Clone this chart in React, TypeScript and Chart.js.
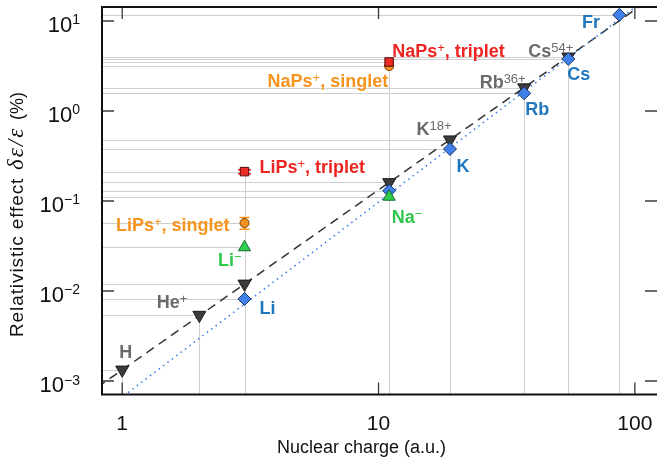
import { useEffect, useRef } from 'react';
import { Chart, registerables } from 'chart.js';

Chart.register(...registerables);

// ---- axes ----
const X_MIN = 0.834;
const X_MAX = 122;
const Y_MIN = 7.08e-4;
const Y_MAX = 14.3;
const X_TICKS = [1, 10, 100];
const X_TICK_LABELS = ['1', '10', '100'];
const Y_TICKS = [1e-3, 1e-2, 1e-1, 1, 10];
const Y_TICK_EXPONENTS = ['−3', '−2', '−1', '0', '1'];

// ---- data: nuclear charge Z and relativistic effect (%) ----
const IONS_Z = [1, 2, 3, 11, 19, 37, 55];
const IONS_VAL = [0.00133, 0.0054, 0.012, 0.161, 0.48, 1.82, 4.0];
const ATOMS_Z = [3, 11, 19, 37, 55, 87];
const ATOMS_VAL = [0.00815, 0.13, 0.378, 1.57, 3.78, 11.7];
const ANIONS_Z = [3, 11];
const ANIONS_VAL = [0.0306, 0.1116];
const SINGLET_Z = [3, 11];
const SINGLET_VAL = [0.057, 3.15];
const SINGLET_ERR = [0.0085, 0];
const TRIPLET_Z = [3, 11];
const TRIPLET_VAL = [0.212, 3.5];
const TRIPLET_ERR = [0.011, 0];
// guide lines (endpoints)
const IONS_FIT_X = [0.8, 122];
const IONS_FIT_Y = [8.5e-4, 19.8];
const ATOMS_FIT_X = [0.8, 122];
const ATOMS_FIT_Y = [4.1e-4, 21.8];

// ---- labels ----
const ION_NAMES = ['H', 'He^{+}', '', '', 'K^{18+}', 'Rb^{36+}', 'Cs^{54+}'];
const ATOM_NAMES = ['Li', '', 'K', 'Rb', 'Cs', 'Fr'];
const ANION_NAMES = ['Li^{−}', 'Na^{−}'];
const SINGLET_NAMES = ['LiPs^{+}, singlet', 'NaPs^{+}, singlet'];
const TRIPLET_NAMES = ['LiPs^{+}, triplet', 'NaPs^{+}, triplet'];

type Align = 'left' | 'right' | 'center';
// label placement relative to its point (pixels)
const LABEL_PLACEMENT: Record<string, [Align, number, number][]> = {
  ions: [['center', 3.5, -12], ['right', -12, -7], ['left', 0, 0], ['left', 0, 0], ['right', 1.5, -5], ['right', 1.5, 0], ['right', 5, 0]],
  atoms: [['left', 15, 15], ['left', 0, 0], ['left', 6.5, 22.7], ['left', 1, 21.6], ['left', -1, 21], ['right', -19.4, 13]],
  anions: [['right', -3, 18.7], ['left', 2.6, 26.6]],
  singlet: [['right', -15, 8], ['right', -1, 21]],
  triplet: [['left', 15, 1], ['left', 3, -5]],
};

const FONT = "'Liberation Sans', Arial, Helvetica, sans-serif";

function zip(xs: number[], ys: number[]) {
  return xs.map((x, i) => ({ x, y: ys[i] }));
}

function parseRich(s: string) {
  const parts: { t: string; sup: boolean }[] = [];
  const re = /\^\{([^}]*)\}/g;
  let last = 0;
  let m: RegExpExecArray | null;
  while ((m = re.exec(s))) {
    if (m.index > last) parts.push({ t: s.slice(last, m.index), sup: false });
    parts.push({ t: m[1], sup: true });
    last = re.lastIndex;
  }
  if (last < s.length) parts.push({ t: s.slice(last), sup: false });
  return parts;
}

function drawRich(ctx: CanvasRenderingContext2D, s: string, x: number, y: number, align: Align, mainFont: string, supFont: string, raise: number) {
  const parts = parseRich(s);
  const widths = parts.map((p) => {
    ctx.font = p.sup ? supFont : mainFont;
    return ctx.measureText(p.t).width;
  });
  const total = widths.reduce((a, b) => a + b, 0);
  let cx = align === 'left' ? x : align === 'right' ? x - total : x - total / 2;
  ctx.textAlign = 'left';
  ctx.textBaseline = 'alphabetic';
  parts.forEach((p, i) => {
    ctx.font = p.sup ? supFont : mainFont;
    ctx.fillText(p.t, cx, p.sup ? y - raise : y);
    cx += widths[i];
  });
}

const dropLinesPlugin = {
  id: 'dropLines',
  beforeDatasetsDraw(chart: any) {
    const ctx = chart.ctx as CanvasRenderingContext2D;
    const ca = chart.chartArea;
    ctx.save();
    ctx.strokeStyle = '#cfcfcf';
    ctx.lineWidth = 1;
    chart.data.datasets.forEach((ds: any, di: number) => {
      if (!ds.dropLines) return;
      const meta = chart.getDatasetMeta(di);
      meta.data.forEach((el: any) => {
        const px = Math.round(el.x) + 0.5;
        const py = Math.round(el.y) + 0.5;
        ctx.beginPath();
        ctx.moveTo(ca.left, py);
        ctx.lineTo(px, py);
        ctx.moveTo(px, py);
        ctx.lineTo(px, ca.bottom);
        ctx.stroke();
      });
    });
    // error bars
    const y = chart.scales.y;
    chart.data.datasets.forEach((ds: any, di: number) => {
      if (!ds.errors) return;
      const meta = chart.getDatasetMeta(di);
      meta.data.forEach((el: any, i: number) => {
        const e = ds.errors[i];
        if (!e) return;
        const v = ds.data[i].y;
        const top = y.getPixelForValue(v + e);
        const bot = y.getPixelForValue(v - e);
        const hw = ds.capHalfWidth;
        ctx.strokeStyle = ds.errorColor;
        ctx.lineWidth = 1.5;
        ctx.beginPath();
        ctx.moveTo(el.x, top);
        ctx.lineTo(el.x, bot);
        ctx.moveTo(el.x - hw, top);
        ctx.lineTo(el.x + hw, top);
        ctx.moveTo(el.x - hw, bot);
        ctx.lineTo(el.x + hw, bot);
        ctx.stroke();
      });
    });
    ctx.restore();
  },
};

const framePlugin = {
  id: 'frame',
  afterDraw(chart: any) {
    const ctx = chart.ctx as CanvasRenderingContext2D;
    const ca = chart.chartArea;
    const xs = chart.scales.x;
    const ys = chart.scales.y;
    ctx.save();
    // ticks
    ctx.strokeStyle = '#3a3a3a';
    ctx.lineWidth = 1.3;
    ctx.beginPath();
    Y_TICKS.forEach((t) => {
      const py = ys.getPixelForValue(t);
      ctx.moveTo(ca.left, py);
      ctx.lineTo(ca.left + 12, py);
      ctx.moveTo(ca.right - 12, py);
      ctx.lineTo(ca.right, py);
    });
    X_TICKS.forEach((t) => {
      const px = xs.getPixelForValue(t);
      ctx.moveTo(px, ca.bottom);
      ctx.lineTo(px, ca.bottom - 12);
      ctx.moveTo(px, ca.top);
      ctx.lineTo(px, ca.top + 12);
    });
    ctx.stroke();
    // frame (left, top, bottom)
    ctx.strokeStyle = '#111';
    ctx.lineWidth = 2;
    ctx.beginPath();
    ctx.moveTo(ca.left - 1, ca.top);
    ctx.lineTo(ca.right, ca.top);
    ctx.moveTo(ca.left, ca.top);
    ctx.lineTo(ca.left, ca.bottom);
    ctx.moveTo(ca.left - 1, ca.bottom);
    ctx.lineTo(ca.right, ca.bottom);
    ctx.stroke();

    // tick labels
    ctx.fillStyle = '#111';
    Y_TICKS.forEach((t, i) => {
      const py = ys.getPixelForValue(t);
      drawRich(ctx, '10^{' + Y_TICK_EXPONENTS[i] + '}', ca.left - 22, py + 11, 'right', `22px ${FONT}`, `14px ${FONT}`, 7.5);
    });
    ctx.font = `21px ${FONT}`;
    ctx.textAlign = 'center';
    ctx.textBaseline = 'alphabetic';
    X_TICKS.forEach((t, i) => {
      ctx.fillText(X_TICK_LABELS[i], xs.getPixelForValue(t), ca.bottom + 35.5);
    });

    // axis titles
    ctx.font = `18px ${FONT}`;
    ctx.textAlign = 'center';
    ctx.fillText('Nuclear charge (a.u.)', ca.left + 259.5, ca.bottom + 58.5);

    ctx.save();
    ctx.translate(23, 337);
    ctx.rotate(-Math.PI / 2);
    ctx.textAlign = 'left';
    const c2 = ctx as any;
    c2.letterSpacing = '0.9px';
    ctx.font = `19px ${FONT}`;
    ctx.fillText('Relativistic effect', 0, 0);
    c2.letterSpacing = '2px';
    ctx.font = "italic 23px 'Liberation Serif', 'DejaVu Serif', serif";
    ctx.fillText('δε/ε', 167, 0);
    c2.letterSpacing = '0px';
    ctx.font = `18px ${FONT}`;
    ctx.fillText('(%)', 217, 0);
    ctx.restore();

    // point labels
    chart.data.datasets.forEach((ds: any, di: number) => {
      if (!ds.names) return;
      const meta = chart.getDatasetMeta(di);
      const place = LABEL_PLACEMENT[ds.key];
      ctx.fillStyle = ds.labelColor;
      meta.data.forEach((el: any, i: number) => {
        const name = ds.names[i];
        if (!name) return;
        const [align, dx, dy] = place[i];
        drawRich(ctx, name, el.x + dx, el.y + dy, align, `bold 18px ${FONT}`, `13px ${FONT}`, 5);
      });
    });
    ctx.restore();
  },
};

export default function App() {
  const ref = useRef<HTMLCanvasElement>(null);

  useEffect(() => {
    if (!ref.current) return;
    const chart = new Chart(ref.current, {
      type: 'scatter',
      data: {
        datasets: [
          {
            key: 'triplet', names: TRIPLET_NAMES, labelColor: '#ee2420', dropLines: true,
            errors: TRIPLET_ERR, errorColor: '#ee2420', capHalfWidth: 6.5,
            data: zip(TRIPLET_Z, TRIPLET_VAL),
            pointStyle: 'rect', pointRadius: 6, backgroundColor: '#ee2b24', borderColor: '#4a0a0a', borderWidth: 1,
            order: 1,
          } as any,
          {
            key: 'singlet', names: SINGLET_NAMES, labelColor: '#f7941d', dropLines: true,
            errors: SINGLET_ERR, errorColor: '#f7941d', capHalfWidth: 5,
            data: zip(SINGLET_Z, SINGLET_VAL),
            pointStyle: 'circle', pointRadius: 4.5, backgroundColor: '#f7921e', borderColor: '#7a3f00', borderWidth: 1,
            order: 2,
          } as any,
          {
            key: 'anions', names: ANION_NAMES, labelColor: '#2ec94a', dropLines: true,
            data: zip(ANIONS_Z, ANIONS_VAL),
            pointStyle: 'triangle', pointRadius: 7, backgroundColor: '#2fcf4f', borderColor: '#166a26', borderWidth: 1,
            order: 3,
          } as any,
          {
            key: 'atoms', names: ATOM_NAMES, labelColor: '#1f77c0', dropLines: true,
            data: zip(ATOMS_Z, ATOMS_VAL),
            pointStyle: 'rectRot', pointRadius: 6.5, backgroundColor: '#3f80ea', borderColor: '#1b3566', borderWidth: 1,
            order: 4,
          } as any,
          {
            key: 'ions', names: ION_NAMES, labelColor: '#6a6a6a', dropLines: true,
            data: zip(IONS_Z, IONS_VAL),
            pointStyle: 'triangle', pointRotation: 180, pointRadius: 7.5, backgroundColor: '#3c3c3c', borderColor: '#1a1a1a', borderWidth: 1,
            order: 5,
          } as any,
          {
            type: 'line',
            data: zip(ATOMS_FIT_X, ATOMS_FIT_Y),
            borderColor: '#3d7fe6', borderWidth: 1.6, borderDash: [1.5, 4], pointRadius: 0, fill: false, showLine: true,
            order: 6,
          } as any,
          {
            type: 'line',
            data: zip(IONS_FIT_X, IONS_FIT_Y),
            borderColor: '#333', borderWidth: 1.5, borderDash: [9, 6], pointRadius: 0, fill: false, showLine: true,
            order: 7,
          } as any,
        ],
      },
      options: {
        animation: false,
        responsive: false,
        events: [],
        layout: { autoPadding: false, padding: { left: 102, top: 7, right: -2, bottom: 66.5 } },
        plugins: { legend: { display: false }, tooltip: { enabled: false } },
        scales: {
          x: { type: 'logarithmic', min: X_MIN, max: X_MAX, display: false },
          y: { type: 'logarithmic', min: Y_MIN, max: Y_MAX, display: false },
        },
      },
      plugins: [dropLinesPlugin, framePlugin],
    });
    return () => chart.destroy();
  }, []);

  return (
    <div style={{ position: 'fixed', left: 0, top: 0, width: 657, height: 461, background: '#fff' }}>
      <canvas ref={ref} width={657} height={461} style={{ display: 'block' }} />
    </div>
  );
}
